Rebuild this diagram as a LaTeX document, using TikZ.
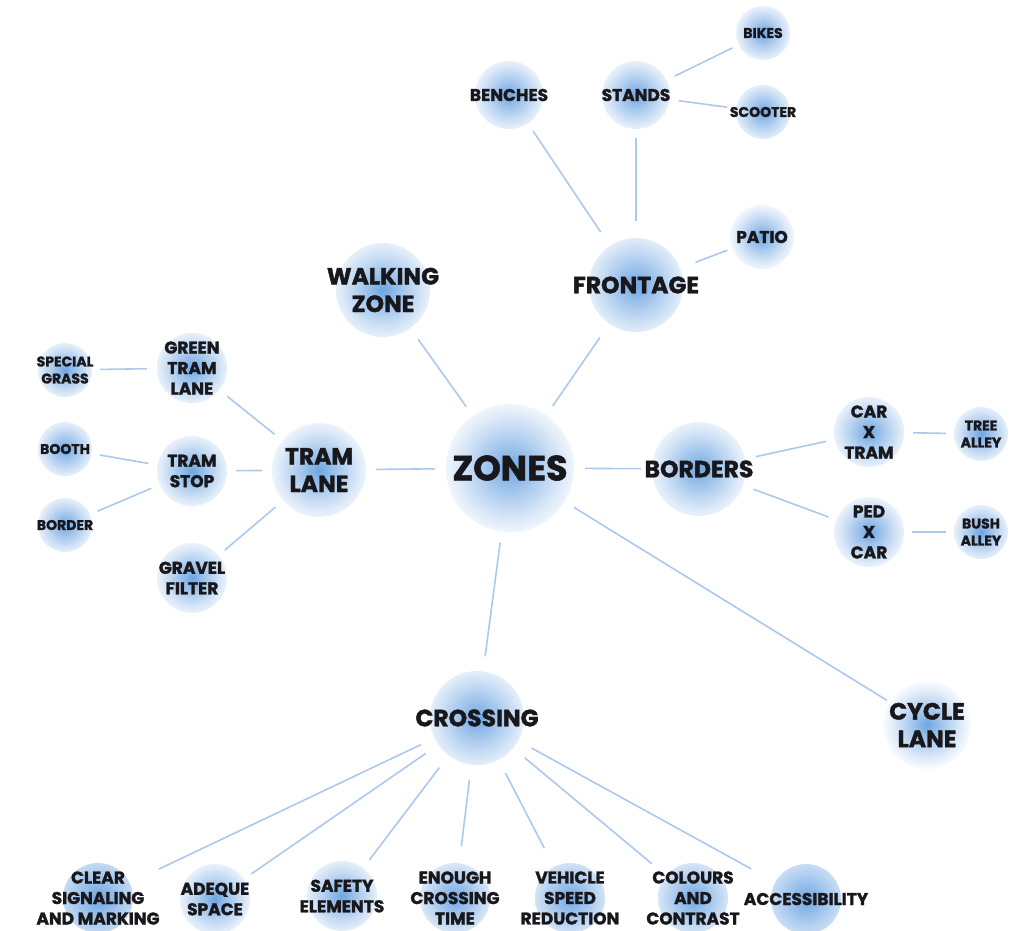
\documentclass[tikz,border=0pt]{standalone}
\usepackage{fontspec}
\setmainfont{Poppins}[BoldFeatures={FakeBold=1.6}]
\definecolor{gc}{RGB}{110,165,226}
\definecolor{lc}{RGB}{172,200,236}
\definecolor{tc}{RGB}{24,24,28}
\pgfdeclareradialshading{glow}{\pgfpoint{0bp}{0bp}}{color(0bp)=(gc); color(5bp)=(gc!76!white); color(12bp)=(gc!46!white); color(18bp)=(gc!22!white); color(22.5bp)=(gc!7!white); color(25bp)=(white); color(50bp)=(white)}
\tikzset{
  gn/.style 2 args={circle, inner sep=0pt, minimum size={2*#1pt}, align=center, text=tc,
    path picture={\shade[shading=glow] (path picture bounding box.center) circle[radius=#2pt];}},
  fz/.style={font=\bfseries\fontsize{35}{38}\selectfont},
  fl/.style={font=\bfseries\fontsize{23.5}{27.5}\selectfont},
  fm/.style={font=\bfseries\fontsize{17}{20.5}\selectfont},
  fs/.style={font=\bfseries\fontsize{14}{17}\selectfont},
  ln/.style={draw=lc, line width=1.6pt},
}
\begin{document}
\begin{tikzpicture}[x=1pt,y=-1pt]
\useasboundingbox (0,0) rectangle (1018,930);
% hub
\node[gn={75}{64}, fz] (zones) at (510,468) {ZONES};
% level 1
\node[gn={57}{47}, fl] (front) at (636,285) {FRONTAGE};
\node[gn={57}{47}, fl] (walk) at (383,290) {WALKING\\ZONE};
\node[gn={57}{47}, fl] (tram) at (319,470) {TRAM\\LANE};
\node[gn={58}{47}, fl] (bord) at (699,469) {BORDERS};
\node[gn={60}{47}, fl] (cross) at (477,718) {CROSSING};
\node[gn={47}{44}, fl] (cycle) at (927,725) {CYCLE\\LANE};
% frontage
\node[gn={43}{34}, fm] (bench) at (509,95) {BENCHES};
\node[gn={43}{34}, fm] (stands) at (636,95) {STANDS};
\node[gn={37}{32}, fm] (patio) at (762,237) {PATIO};
\node[gn={34}{27}, fs] (bikes) at (763,33) {BIKES};
\node[gn={36}{27}, fs] (scoot) at (763,112) {SCOOTER};
% tram lane
\node[gn={45}{35}, fm] (green) at (192,368) {GREEN\\TRAM\\LANE};
\node[gn={44}{35}, fm] (tstop) at (192,471) {TRAM\\STOP};
\node[gn={43}{35}, fm] (gravel) at (192,578) {GRAVEL\\FILTER};
\node[gn={35}{27}, fs] (special) at (65,370) {SPECIAL\\GRASS};
\node[gn={35}{27}, fs] (booth) at (65,449) {BOOTH};
\node[gn={35}{27}, fs] (border) at (65,525) {BORDER};
% borders
\node[gn={44}{35}, fm] (carx) at (869,432) {CAR\\X\\TRAM};
\node[gn={43}{35}, fm] (pedx) at (869,532) {PED\\X\\CAR};
\node[gn={35}{27}, fs] (tree) at (981,434) {TREE\\ALLEY};
\node[gn={35}{27}, fs] (bush) at (981,532) {BUSH\\ALLEY};
% crossing children
\node[gn={44}{35}, fm] (clear) at (98,898) {CLEAR\\SIGNALING\\AND MARKING};
\node[gn={44}{35}, fm] (adeq) at (215,899) {ADEQUE\\SPACE};
\node[gn={37}{35}, fm] (safety) at (342,896) {SAFETY\\ELEMENTS};
\node[gn={43}{35}, fm] (enough) at (455,898) {ENOUGH\\CROSSING\\TIME};
\node[gn={43}{35}, fm] (vehicle) at (570,898) {VEHICLE\\SPEED\\REDUCTION};
\node[gn={50}{35}, fm] (colours) at (693,898) {COLOURS\\AND\\CONTRAST};
\node[gn={42}{35}, fm] (access) at (806,899) {ACCESSIBILITY};
% connectors
\draw[ln] (zones) -- (front);
\draw[ln] (zones) -- (walk);
\draw[ln] (zones) -- (tram);
\draw[ln] (zones) -- (bord);
\draw[ln] (zones) -- (cross);
\draw[ln] (zones) -- (cycle);
\draw[ln] (front) -- (bench);
\draw[ln] (front) -- (stands);
\draw[ln] (front) -- (patio);
\draw[ln] (stands) -- (bikes);
\draw[ln] (stands) -- (scoot);
\draw[ln] (tram) -- (green);
\draw[ln] (tram) -- (tstop);
\draw[ln] (tram) -- (gravel);
\draw[ln] (green) -- (special);
\draw[ln] (tstop) -- (booth);
\draw[ln] (tstop) -- (border);
\draw[ln] (bord) -- (carx);
\draw[ln] (bord) -- (pedx);
\draw[ln] (carx) -- (tree);
\draw[ln] (pedx) -- (bush);
\draw[ln] (cross) -- (clear);
\draw[ln] (cross) -- (adeq);
\draw[ln] (cross) -- (safety);
\draw[ln] (cross) -- (enough);
\draw[ln] (cross) -- (vehicle);
\draw[ln] (cross) -- (colours);
\draw[ln] (cross) -- (access);
\end{tikzpicture}
\end{document}
